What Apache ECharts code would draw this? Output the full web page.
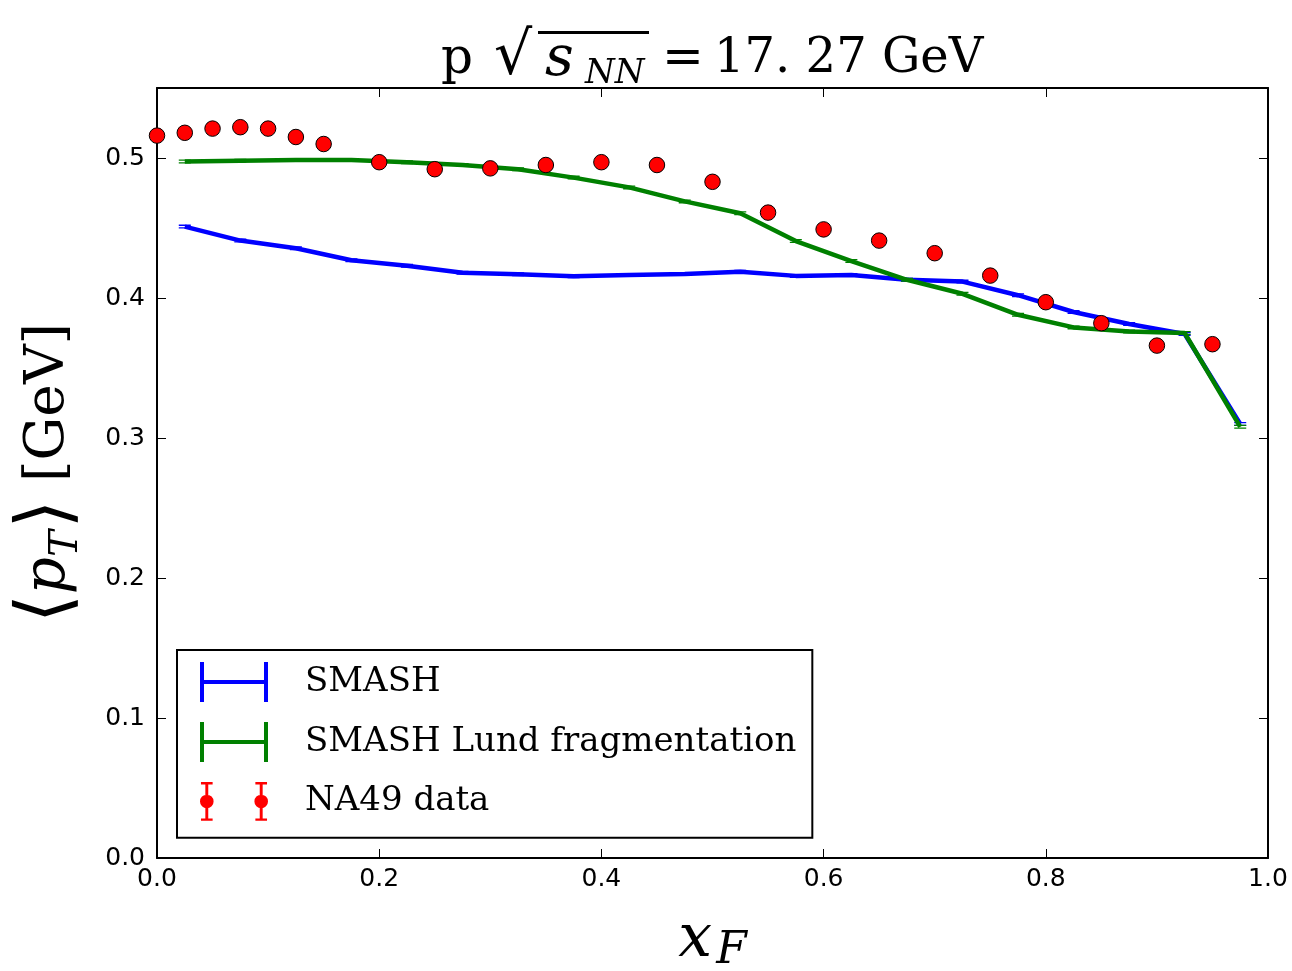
<!DOCTYPE html>
<html><head><meta charset="utf-8">
<script src="https://cdn.jsdelivr.net/npm/echarts@6/dist/echarts.min.js"></script>
<style>html,body{margin:0;padding:0;background:#fff}#c{width:1292px;height:971px}</style>
</head><body><div id="c"></div>
<script>
// x_F bin centres of the model curves
const modelX = [0.025,0.075,0.125,0.175,0.225,0.275,0.325,0.375,0.425,0.475,0.525,0.575,0.625,0.675,0.725,0.775,0.825,0.875,0.925,0.975];
const smashY = [0.451,0.441,0.4355,0.427,0.423,0.418,0.417,0.4155,0.4164,0.4172,0.4188,0.4158,0.4164,0.413,0.4117,0.402,0.390,0.3814,0.3743,0.310];
const lundY  = [0.4975,0.498,0.4985,0.4986,0.497,0.495,0.492,0.486,0.479,0.469,0.4605,0.4407,0.4264,0.413,0.403,0.388,0.379,0.376,0.375,0.308];
// NA49 data
const na49X = [0,0.025,0.05,0.075,0.1,0.125,0.15,0.2,0.25,0.3,0.35,0.4,0.45,0.5,0.55,0.6,0.65,0.7,0.75,0.8,0.85,0.9,0.95];
const na49Y = [0.516,0.518,0.521,0.522,0.521,0.515,0.510,0.497,0.492,0.4926,0.495,0.497,0.495,0.483,0.461,0.449,0.441,0.432,0.416,0.397,0.382,0.366,0.367];
// tick labels
const xTickLabels = ['0.0','0.2','0.4','0.6','0.8','1.0'];
const yTickLabels = ['0.0','0.1','0.2','0.3','0.4','0.5'];
const seriesNames = ['SMASH','SMASH Lund fragmentation','NA49 data'];

const pairs = (xs, ys) => xs.map((x, i) => [x, ys[i]]);
const fmt = (labels, step) => v => {
  const i = Math.round(v / step);
  return Math.abs(i * step - v) < 1e-9 && labels[i] !== undefined ? labels[i] : '';
};
const capPath = 'path://M0,0h12v1.3h-12z M0,2.7h12v1.3h-12z';
const hIcon = 'path://M0,0h4v40h-4z M0,18h68v4h-68z M64,0h4v40h-4z';
const dIcon = 'path://M0,0h12v2.5h-12z M4.5,0h3v40h-3z M0,37.5h12v2.5h-12z M-1,20a7,7 0 1,1 14,0a7,7 0 1,1 -14,0z ' +
              'M56,0h12v2.5h-12z M60.5,0h3v40h-3z M56,37.5h12v2.5h-12z M55,20a7,7 0 1,1 14,0a7,7 0 1,1 -14,0z';

const axisCommon = {
  axisLine: {show: true, onZero: false, lineStyle: {color: '#000', width: 2}},
  axisTick: {show: true, inside: true, length: 9, lineStyle: {color: '#000', width: 1}},
  splitLine: {show: false}
};
const serif = '"DejaVu Serif", serif';
const sans = '"DejaVu Sans", sans-serif';

const chart = echarts.init(document.getElementById('c'), null, {renderer: 'canvas'});
chart.setOption({
  animation: false,
  backgroundColor: '#fff',
  grid: {left: 157, right: 24, top: 88, bottom: 113, containLabel: false, outerBoundsMode: 'none'},
  xAxis: [
    Object.assign({type: 'value', position: 'bottom', min: 0, max: 1, interval: 0.2,
      axisLabel: {formatter: fmt(xTickLabels, 0.2), fontFamily: sans, fontSize: 25, color: '#000', margin: 9},
      name: '{x|x}{F|F}', nameLocation: 'middle', nameGap: 48,
      nameTextStyle: {color: '#000', rich: {
        x: {fontFamily: serif, fontStyle: 'italic', fontSize: 60, color: '#000'},
        F: {fontFamily: serif, fontStyle: 'italic', fontSize: 44, color: '#000', padding: [24, 0, 0, 4]}
      }}
    }, axisCommon),
    Object.assign({type: 'value', position: 'top', min: 0, max: 1, interval: 0.2, axisLabel: {show: false}}, axisCommon)
  ],
  yAxis: [
    Object.assign({type: 'value', position: 'left', min: 0, max: 0.55, interval: 0.1,
      axisLabel: {formatter: fmt(yTickLabels, 0.1), fontFamily: sans, fontSize: 25, color: '#000', margin: 12},
      name: '{b|⟨}{p|p}{T|T}{b|⟩}{a| [GeV]}', nameLocation: 'middle', nameRotate: 90, nameGap: 70,
      nameTextStyle: {color: '#000', rich: {
        a: {fontFamily: serif, fontSize: 55, color: '#000'},
        b: {fontFamily: serif, fontSize: 74, color: '#000'},
        p: {fontFamily: serif, fontStyle: 'italic', fontSize: 58, color: '#000'},
        T: {fontFamily: serif, fontStyle: 'italic', fontSize: 40, color: '#000', padding: [36, 2, 0, 0]}
      }}
    }, axisCommon),
    Object.assign({type: 'value', position: 'right', min: 0, max: 0.55, interval: 0.1, axisLabel: {show: false}}, axisCommon)
  ],
  legend: {
    orient: 'vertical', left: 177, top: 650,
    padding: [12, 16, 17, 23], itemWidth: 68, itemHeight: 40, itemGap: 20,
    borderColor: '#000', borderWidth: 2, borderRadius: 0,
    textStyle: {fontFamily: serif, fontSize: 34, color: '#000', padding: [0, 0, 0, 32]},
    itemStyle: {borderWidth: 0, opacity: 1},
    data: [
      {name: seriesNames[0], icon: hIcon},
      {name: seriesNames[1], icon: hIcon},
      {name: seriesNames[2], icon: dIcon, itemStyle: {borderWidth: 0, opacity: 1}}
    ]
  },
  graphic: [
    {type: 'text', x: 441, y: 60, style: {text: 'p', font: '50px "DejaVu Serif"', fill: '#000', verticalAlign: 'middle'}},
    {type: 'text', x: 494, y: 58, style: {text: '√', font: '60px "DejaVu Serif"', fill: '#000', verticalAlign: 'middle'}},
    {type: 'rect', shape: {x: 538, y: 31, width: 111, height: 3}, style: {fill: '#000'}},
    {type: 'text', x: 545, y: 60, style: {text: 's', font: 'italic 56px "DejaVu Serif"', fill: '#000', verticalAlign: 'middle'}},
    {type: 'text', x: 585, y: 74, style: {text: 'NN', font: 'italic 34px "DejaVu Serif"', fill: '#000', verticalAlign: 'middle'}},
    {type: 'text', x: 662, y: 60, style: {text: '=', font: '50px "DejaVu Serif"', fill: '#000', verticalAlign: 'middle'}},
    {type: 'text', x: 714, y: 60, style: {text: '17. 27 GeV', font: '48px "DejaVu Serif"', fill: '#000', verticalAlign: 'middle'}}
  ],
  series: [
    {name: seriesNames[0], type: 'line', data: pairs(modelX, smashY), xAxisIndex: 0, yAxisIndex: 0,
     symbol: capPath, symbolSize: [12, 4], showAllSymbol: true, color: '#0000ff',
     lineStyle: {color: '#0000ff', width: 4.5}, itemStyle: {color: '#0000ff', borderWidth: 0}, z: 2},
    {name: seriesNames[1], type: 'line', data: pairs(modelX, lundY), xAxisIndex: 0, yAxisIndex: 0,
     symbol: capPath, symbolSize: [12, 4], showAllSymbol: true, color: '#008000',
     lineStyle: {color: '#008000', width: 4.5}, itemStyle: {color: '#008000', borderWidth: 0}, z: 3},
    {name: seriesNames[2], type: 'scatter', data: pairs(na49X, na49Y), xAxisIndex: 0, yAxisIndex: 0,
     symbol: 'circle', symbolSize: 15.5, color: '#ff0000',
     itemStyle: {color: '#ff0000', borderColor: '#000', borderWidth: 1, opacity: 1}, z: 4}
  ]
});
</script></body></html>
